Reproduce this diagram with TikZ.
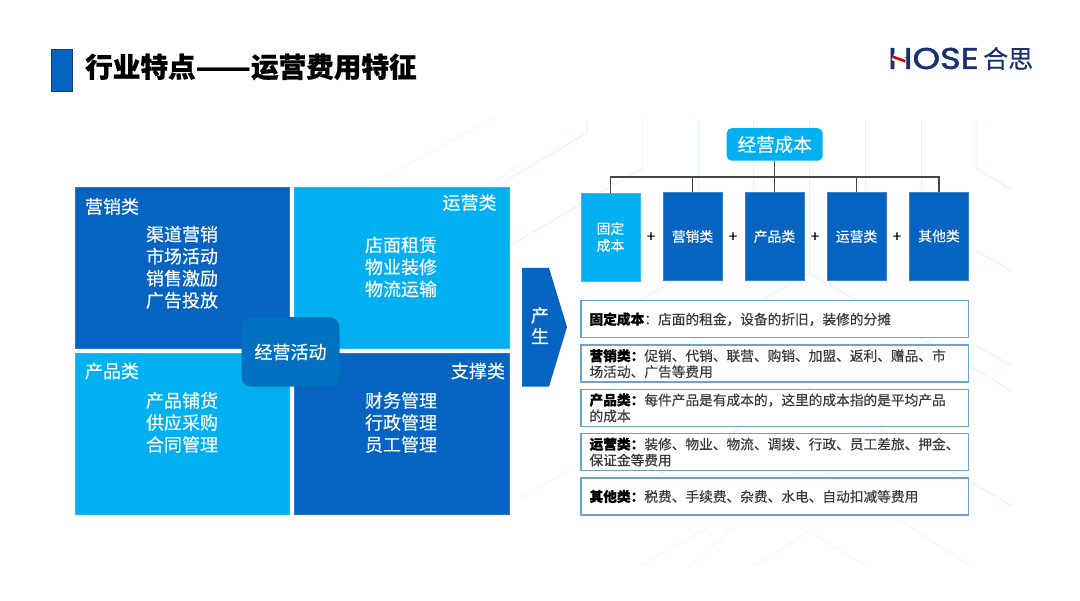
\documentclass[tikz,border=0pt]{standalone}
\usepackage{fontspec}
\setmainfont{Noto Sans CJK SC}[FakeBold=0.35, BoldFeatures={FakeBold=0.6}]
\newfontfamily\logofont{Poppins}[FakeBold=1.6]
\usepackage{xcolor}
\usetikzlibrary{positioning}
\definecolor{deepblue}{HTML}{0563C1}
\definecolor{skyblue}{HTML}{00B0F0}
\definecolor{midblue}{HTML}{0070C0}
\definecolor{navy}{HTML}{1B3070}
\definecolor{pale}{HTML}{E2F3FB}
\definecolor{paler}{HTML}{EFF8FC}
\definecolor{descedge}{HTML}{6FA3CF}
\definecolor{bodytext}{HTML}{3A3A3A}
\newcommand{\leadin}[1]{\textbf{\color{black}#1}}
\tikzset{
    quad/.style={minimum width=214.5, minimum height=161, draw=#1!85!white, fill=#1, line width=0.5pt, inner sep=0},
    costbox/.style={minimum width=59, minimum height=88, fill=#1, draw=#1!80!white, line width=0.5pt, inner sep=0, text=white, align=center, font=\fontsize{13.8}{17}\selectfont},
    desc/.style={minimum height=37, text width=370.5, inner xsep=8.5, inner ysep=0, draw=descedge, line width=1.5pt, fill=white, align=left, text=bodytext, font=\fontsize{13.7}{16}\selectfont},
    head/.style={text=white, inner sep=0, font=\fontsize{18}{22}\selectfont},
    items/.style={text=white, inner sep=0, align=center, font=\fontsize{18}{22}\selectfont},
    plus/.style={inner sep=0, text=black, font=\fontsize{15}{15}\selectfont},
    bus/.style={draw=black!72, line width=1.2pt},
    bgline/.style={draw=pale, line width=1pt},
    bgfaint/.style={draw=paler, line width=1pt},
}
\begin{document}
\begin{tikzpicture}[x=1pt,y=-1pt]
    \useasboundingbox (0,0) rectangle (1080,601);
    % background
    \foreach \px in {698,753,809,865,921} \draw[bgline] (\px,120) -- (\px,190);
    \draw[bgline] (587,120) -- (587,133) -- (505,181);
    \draw[bgline] (642,120) -- (642,168) -- (511,245);
    \draw[bgline] (976,120) -- (976,168) -- (1012,190);
    \draw[bgline] (809,190) -- (809,273);
    \draw[bgline] (590,400) -- (809,273) -- (1012,391);
    \draw[bgline] (640,486) -- (809,388) -- (1012,506);
    \draw[bgfaint] (690,566) -- (809,461) -- (970,566);
    \draw[bgfaint] (755,566) -- (809,531) -- (865,566);
    \draw[bgline] (640,300) -- (697,268);
    \draw[bgline] (975,250) -- (1012,271);
    \draw[bgline] (975,345) -- (1012,366);
    \draw[bgfaint] (640,566) -- (730,515);
    \draw[bgfaint] (493,118) -- (380,180);
    \draw[bgfaint] (520,165) -- (490,185);
    \draw[bgfaint] (570,470) -- (520,498);
    % title
    \node[minimum width=21, minimum height=42, fill=deepblue, draw=navy!80!deepblue, line width=0.6pt, inner sep=0] (accent) at (61.5,70.3) {};
    \node[anchor=west, inner sep=0, text=black, font=\fontsize{27.6}{30}\selectfont\bfseries] (title) at (85,67) {行业特点\scalebox{1.17}[1]{——}运营费用特征};
    % logo
    \node[anchor=west, inner sep=0, text=navy, xscale=1.17, font=\fontsize{30}{30}\selectfont\logofont] (hose) at (888,58.5) {HOSE};
    \node[minimum width=13, minimum height=7, fill=white, inner sep=0, rotate=-20] (hosegap) at (899,59) {};
    \draw[red!85!black, line width=2.6pt] (hosegap.west) -- (hosegap.east);
    \node[anchor=west, inner sep=0, text=navy, font=\fontsize{25}{25}\selectfont] (hosecn) at (983,58.5) {合思};
    % activity quadrants
    \node[quad=deepblue] (market) at (182.3,267.8) {};
    \node[quad=skyblue]  (operate) at (401.5,267.8) {};
    \node[quad=skyblue]  (product) at (182.3,434) {};
    \node[quad=deepblue] (support) at (401.5,434) {};
    \node[head] (markethead) at (112,206.5) {营销类};
    \node[head] (operatehead) at (469.5,202.5) {运营类};
    \node[head] (producthead) at (112,371) {产品类};
    \node[head] (supporthead) at (478,371) {支撑类};
    \node[items] (marketitems) at (182,267.3) {渠道营销\\市场活动\\销售激励\\广告投放};
    \node[items] (operateitems) at (401,267) {店面租赁\\物业装修\\物流运输};
    \node[items] (productitems) at (182,422.5) {产品铺货\\供应采购\\合同管理};
    \node[items] (supportitems) at (401,422.5) {财务管理\\行政管理\\员工管理};
    \node[minimum width=98, minimum height=69.5, rounded corners=10, fill=midblue, inner sep=0, text=white, font=\fontsize{18}{22}\selectfont] (activity) at (290.5,352) {经营活动};
    % arrow
    \coordinate (A1) at (522,268);
    \coordinate (A2) at (549,268);
    \coordinate (A3) at (567,327);
    \coordinate (A4) at (549,386.7);
    \coordinate (A5) at (522,386.7);
    \fill[deepblue] (A1) -- (A2) -- (A3) -- (A4) -- (A5) -- cycle;
    \node[inner sep=0, text=white, align=center, font=\fontsize{18}{21}\selectfont] (yield) at (540,325.5) {产\\生};
    % cost tree
    \node[minimum width=96, minimum height=32.5, rounded corners=5, fill=skyblue, inner sep=0, text=white, font=\fontsize{18.5}{22}\selectfont] (cost) at (774.7,144.5) {经营成本};
    \node[costbox=skyblue] (fixed) at (610.5,237) {固定\\成本};
    \node[costbox=deepblue] (costmarket) at (692.5,236.5) {营销类};
    \node[costbox=deepblue] (costproduct) at (774.5,236.5) {产品类};
    \node[costbox=deepblue] (costoperate) at (856.5,236.5) {运营类};
    \node[costbox=deepblue] (costother) at (939,236) {其他类};
    \foreach \nm in {fixed,costmarket,costproduct,costoperate,costother}
        \draw[bus] (cost.south) -- ++(0,16) -| (\nm.north);
    \node[plus] (plusa) at (651,237) {+};
    \node[plus] (plusb) at (733,237) {+};
    \node[plus] (plusc) at (815,237) {+};
    \node[plus] (plusd) at (897,237) {+};
    % descriptions
    \node[desc] (descfixed) at (774.8,319.2) {\leadin{固定成本}：店面的租金，设备的折旧，装修的分摊};
    \node[desc] (descmarket) at (774.8,363.7) {\leadin{营销类：}促销、代销、联营、购销、加盟、返利、赠品、市\\场活动、广告等费用};
    \node[desc] (descproduct) at (774.8,407.9) {\leadin{产品类：}每件产品是有成本的，这里的成本指的是平均产品\\的成本};
    \node[desc] (descoperate) at (774.8,452.1) {\leadin{运营类：}装修、物业、物流、调拨、行政、员工差旅、押金、\\保证金等费用};
    \node[desc] (descother) at (774.8,496.5) {\leadin{其他类：}税费、手续费、杂费、水电、自动扣减等费用};
\end{tikzpicture}
\end{document}
